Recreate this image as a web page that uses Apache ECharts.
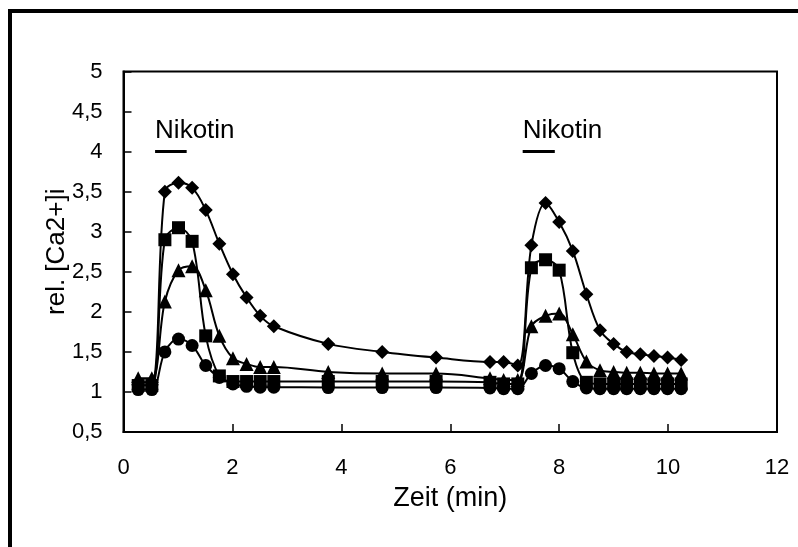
<!DOCTYPE html>
<html>
<head>
<meta charset="utf-8">
<script src="https://cdn.jsdelivr.net/npm/echarts@6/dist/echarts.min.js"></script>
<style>
  html, body { margin: 0; padding: 0; background: #fff; }
  #chart { width: 798px; height: 547px; }
</style>
</head>
<body>
<div id="chart"></div>
<script>
// Sampling times (min)
const times = [0.27, 0.52, 0.76, 1.01, 1.26, 1.51, 1.76, 2.01, 2.26, 2.51, 2.76,
  3.76, 4.75, 5.74, 6.73, 6.98, 7.24, 7.49, 7.75, 8.0, 8.25, 8.5, 8.75,
  9.0, 9.24, 9.49, 9.74, 9.99, 10.24];

// Relative [Ca2+]i for four cells
const cellDiamond = [1.12, 1.12, 3.5, 3.61, 3.55, 3.27, 2.85, 2.47, 2.18, 1.95, 1.82,
  1.6, 1.5, 1.43, 1.375, 1.375, 1.33, 2.83, 3.36, 3.12, 2.76, 2.22, 1.77,
  1.6, 1.5, 1.47, 1.45, 1.43, 1.4];
const cellSquare = [1.08, 1.08, 2.9, 3.05, 2.88, 1.7, 1.2, 1.13, 1.13, 1.13, 1.13,
  1.13, 1.13, 1.13, 1.12, 1.1, 1.1, 2.55, 2.65, 2.52, 1.49, 1.12, 1.1,
  1.1, 1.1, 1.1, 1.1, 1.1, 1.1];
const cellTriangle = [1.17, 1.17, 2.13, 2.52, 2.57, 2.27, 1.7, 1.42, 1.35, 1.31, 1.31,
  1.25, 1.23, 1.23, 1.17, 1.15, 1.15, 1.82, 1.95, 1.98, 1.72, 1.38, 1.27,
  1.25, 1.24, 1.24, 1.23, 1.23, 1.23];
const cellCircle = [1.03, 1.03, 1.5, 1.66, 1.58, 1.33, 1.18, 1.1, 1.07, 1.06, 1.06,
  1.055, 1.055, 1.055, 1.05, 1.04, 1.04, 1.23, 1.33, 1.29, 1.13, 1.05, 1.04,
  1.04, 1.04, 1.04, 1.04, 1.04, 1.04];

// Nicotine application periods (min) and the level where the bar is drawn
const nicotineStart = [0.58, 7.33];
const nicotineEnd = [1.16, 7.92];
const nicotineLevel = 4;
const nicotineText = 'Nikotin';

const font = 'Liberation Sans, Arial, Helvetica, sans-serif';

function pairs(ys) { return times.map((t, i) => [t, ys[i]]); }

function cellSeries(values, symbol, size) {
  return {
    type: 'line',
    data: pairs(values),
    smooth: 0.35,
    symbol: symbol,
    symbolSize: size,
    showAllSymbol: true,
    lineStyle: { color: '#000', width: 2 },
    itemStyle: { color: '#000', borderWidth: 0 },
    z: 3
  };
}

const nicotineBars = nicotineStart.map((s, i) => ({
  type: 'line',
  data: [[s, nicotineLevel], [nicotineEnd[i], nicotineLevel]],
  symbol: 'none',
  lineStyle: { color: '#000', width: 3 },
  silent: true,
  z: 4
}));

const chart = echarts.init(document.getElementById('chart'), null, { renderer: 'canvas' });

chart.setOption({
  animation: false,
  backgroundColor: '#fff',
  grid: {
    left: 123.5, right: 21, top: 71.5, bottom: 115,
    show: true, borderColor: '#000', borderWidth: 2, backgroundColor: 'transparent'
  },
  xAxis: {
    type: 'value', min: 0, max: 12, interval: 2,
    name: 'Zeit (min)', nameLocation: 'middle', nameGap: 53, nameMoveOverlap: false,
    nameTextStyle: { color: '#000', fontSize: 27, fontFamily: font },
    axisLine: { show: true, lineStyle: { color: '#000', width: 2 } },
    axisTick: { show: true, inside: true, length: 8, lineStyle: { color: '#000', width: 1.5 } },
    axisLabel: { color: '#000', fontSize: 22, fontFamily: font, margin: 25 },
    splitLine: { show: false }
  },
  yAxis: {
    type: 'value', min: 0.5, max: 5, interval: 0.5,
    name: 'rel. [Ca2+]i', nameLocation: 'middle', nameGap: 54, nameMoveOverlap: false,
    nameTextStyle: { color: '#000', fontSize: 26, fontFamily: font },
    axisLine: { show: true, lineStyle: { color: '#000', width: 2 } },
    axisTick: { show: true, inside: true, length: 8, lineStyle: { color: '#000', width: 1.5 } },
    axisLabel: {
      color: '#000', fontSize: 22, fontFamily: font, margin: 21,
      formatter: v => String(v).replace('.', ',')
    },
    splitLine: { show: false }
  },
  series: [
    cellSeries(cellDiamond, 'diamond', 14),
    cellSeries(cellSquare, 'rect', 13),
    cellSeries(cellTriangle, 'triangle', 14),
    cellSeries(cellCircle, 'circle', 13),
    ...nicotineBars,
    {
      type: 'scatter',
      data: nicotineStart.map(s => [s, nicotineLevel]),
      symbolSize: 1,
      itemStyle: { color: 'rgba(0,0,0,0)', opacity: 1 },
      label: {
        show: true, position: 'top', align: 'left', distance: 7,
        formatter: nicotineText,
        color: '#000', fontSize: 26, fontFamily: font
      },
      silent: true,
      z: 5
    }
  ],
  graphic: [{
    type: 'rect',
    shape: { x: 10, y: 11, width: 900, height: 700 },
    style: { fill: 'none', stroke: '#000', lineWidth: 4 },
    silent: true, z: 10
  }]
});
</script>
</body>
</html>
